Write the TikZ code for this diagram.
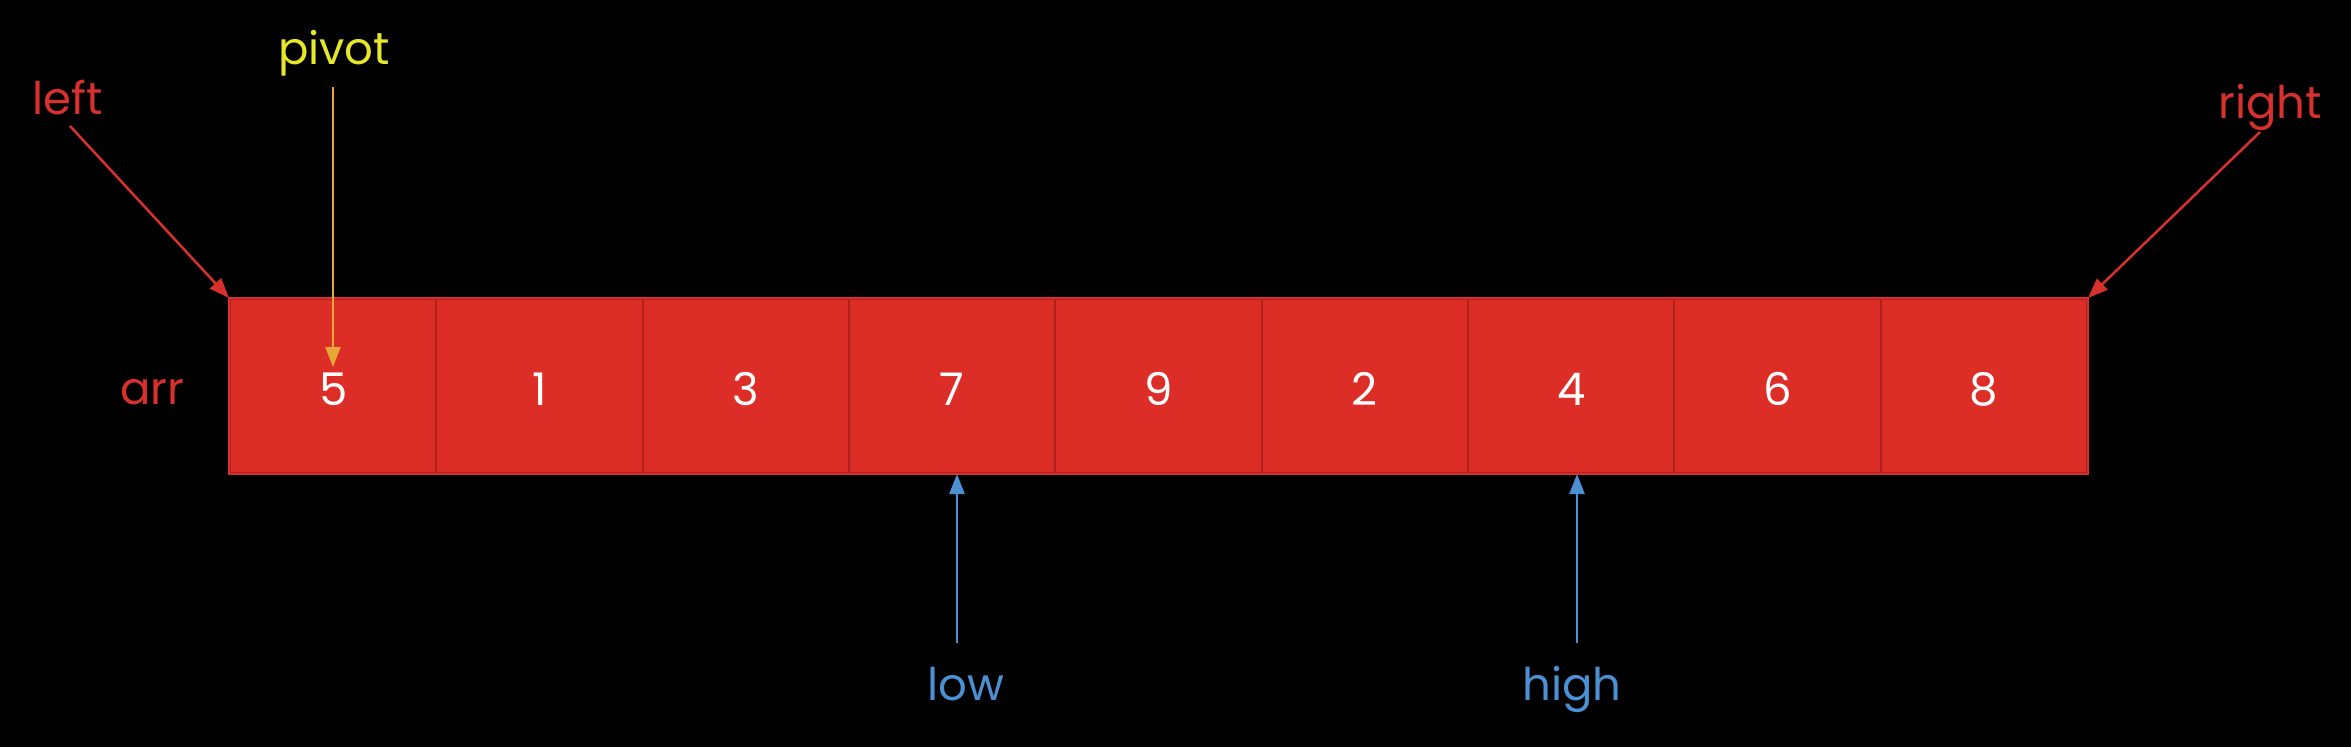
\documentclass[tikz,border=0pt]{standalone}
\usepackage{fontspec}
\setmainfont{Poppins}
\usetikzlibrary{arrows.meta}
\definecolor{bg}{HTML}{000000}
\definecolor{cellred}{HTML}{DC2D27}
\definecolor{celledge}{HTML}{B0201C}
\definecolor{labred}{HTML}{D8302C}
\definecolor{labblue}{HTML}{4A90D2}
\definecolor{pivy}{HTML}{E6E62A}
\definecolor{pivarrow}{HTML}{E8A838}
\tikzset{
  cell/.style={draw=celledge, line width=2pt, fill=cellred, minimum width=206.33pt, minimum height=174pt, inner sep=0pt, text height=38pt, text depth=0pt, text=white, font=\fontsize{45}{54}\selectfont},
  lab/.style={inner sep=0pt, anchor=base, font=\fontsize{45}{54}\selectfont},
  ptr/.style={line width=2.5pt, -{Triangle[length=20pt,width=15pt]}},
}
\begin{document}
\begin{tikzpicture}[x=1pt,y=-1pt]
\fill[bg] (0,0) rectangle (2351,747);
\useasboundingbox (0,0) rectangle (2351,747);
\foreach \v [count=\i] in {5,1,3,7,9,2,4,6,8}{
  \node[cell] (c\i) at ({230+206.33*(\i-0.5)},386) {\v};
}
\draw[labred, line width=2pt] (c1.north west) rectangle (c9.south east);
\node[lab, text=labred] (arr) at (152,404) {arr};
\node[lab, text=labred] (left) at (68,114) {left};
\node[lab, text=labred] (right) at (2270,118) {right};
\node[lab, text=pivy] (pivot) at (334,64) {pivot};
\node[lab, text=labblue] (low) at (966,700) {low};
\node[lab, text=labblue] (high) at (1572,700) {high};
\coordinate (ls) at (70,126);
\coordinate (rs) at (2260,132);
\coordinate (ps) at (333,87);
\coordinate (pe) at (333,367);
\coordinate (lws) at (957,643);
\coordinate (lwe) at (957,474);
\coordinate (hs) at (1577,643);
\coordinate (he) at (1577,474);
\draw[ptr, labred] (ls) -- (c1.north west);
\draw[ptr, labred] (rs) -- (c9.north east);
\draw[ptr, pivarrow] (ps) -- (pe);
\draw[ptr, labblue] (lws) -- (lwe);
\draw[ptr, labblue] (hs) -- (he);
\end{tikzpicture}
\end{document}
